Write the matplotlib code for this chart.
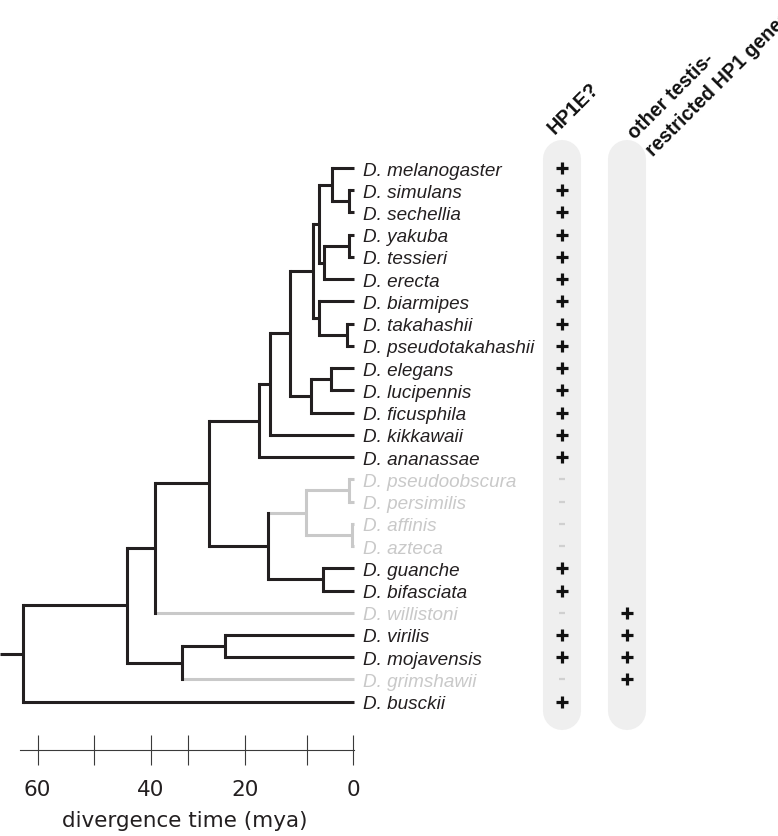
import matplotlib.pyplot as plt
import numpy as np

# tips, top to bottom
species = ['D. melanogaster', 'D. simulans', 'D. sechellia', 'D. yakuba',
           'D. tessieri', 'D. erecta', 'D. biarmipes', 'D. takahashii',
           'D. pseudotakahashii', 'D. elegans', 'D. lucipennis',
           'D. ficusphila', 'D. kikkawaii', 'D. ananassae',
           'D. pseudoobscura', 'D. persimilis', 'D. affinis', 'D. azteca',
           'D. guanche', 'D. bifasciata', 'D. willistoni', 'D. virilis',
           'D. mojavensis', 'D. grimshawii', 'D. busckii']
hp1e = ['+', '+', '+', '+', '+', '+', '+', '+', '+', '+', '+', '+', '+', '+',
        '-', '-', '-', '-', '+', '+', '-', '+', '+', '-', '+']
other_hp1 = ['', '', '', '', '', '', '', '', '', '', '', '', '', '',
             '', '', '', '', '', '', '+', '+', '+', '+', '']

# internal nodes: name -> (age in mya, children)
nodes = {
    'root': (62.7, ['A', 'D. busckii']),
    'A': (43.0, ['B', 'V']),
    'B': (37.7, ['C', 'D. willistoni']),
    'C': (27.4, ['D', 'Q']),
    'D': (17.9, ['E', 'D. ananassae']),
    'E': (15.8, ['F', 'D. kikkawaii']),
    'F': (12.1, ['G', 'O']),
    'G': (7.7, ['H', 'M']),
    'H': (6.6, ['I', 'K']),
    'I': (4.2, ['D. melanogaster', 'J']),
    'J': (0.9, ['D. simulans', 'D. sechellia']),
    'K': (5.6, ['L', 'D. erecta']),
    'L': (0.9, ['D. yakuba', 'D. tessieri']),
    'M': (6.6, ['D. biarmipes', 'N']),
    'N': (1.4, ['D. takahashii', 'D. pseudotakahashii']),
    'O': (8.2, ['P', 'D. ficusphila']),
    'P': (4.4, ['D. elegans', 'D. lucipennis']),
    'Q': (16.2, ['R', 'U']),
    'R': (9.0, ['S', 'T']),
    'S': (0.9, ['D. pseudoobscura', 'D. persimilis']),
    'T': (0.4, ['D. affinis', 'D. azteca']),
    'U': (5.8, ['D. guanche', 'D. bifasciata']),
    'V': (32.6, ['W', 'D. grimshawii']),
    'W': (24.5, ['D. virilis', 'D. mojavensis']),
}

# scale bar ticks (hand drawn in the original)
tick_mya = [59.9, 49.3, 38.5, 31.4, 20.6, 8.8, 0.1]
tick_labels = ['60', '', '40', '', '20', '', '0']

DARK = '#231f20'
GREY = '#c9c9c9'
LW = 2.2

fig = plt.figure(figsize=(7.78, 8.37), dpi=100)
ax = fig.add_axes([0, 0, 1, 1])
ax.axis('off')
ax.set_xlim(67.0, -80.26)
ax.set_ylim(30.04, -7.6)

age = {s: 0.0 for s in species}
age.update({k: v[0] for k, v in nodes.items()})
ypos = {s: i for i, s in enumerate(species)}
absent = {s for s, h in zip(species, hp1e) if h == '-'}


def place(n):
    if n not in ypos:
        ypos[n] = np.mean([place(k) for k in nodes[n][1]])
    return ypos[n]


def is_grey(n):
    if n in nodes:
        return all(is_grey(k) for k in nodes[n][1])
    return n in absent


place('root')

# grey branches first, dark on top
for n, (a, kids) in nodes.items():
    for k in kids:
        g = is_grey(k)
        ax.hlines(ypos[k], a, age[k], color=GREY if g else DARK, lw=LW,
                  capstyle='butt', zorder=2 if g else 3)
    ys = [ypos[k] for k in kids]
    g = is_grey(n)
    ax.vlines(a, min(ys), max(ys), color=GREY if g else DARK, lw=LW,
              capstyle='projecting', zorder=2 if g else 3)
ax.hlines(ypos['root'], age['root'], ax.get_xlim()[0], color=DARK, lw=LW)

for i, s in enumerate(species):
    ax.text(-1.7, i, s, style='italic', size=13.6, family='Liberation Sans',
            va='center_baseline', ha='left',
            color=GREY if s in absent else DARK)

# columns
col_x = [-39.4, -51.6]
n = len(species)
for cx in col_x:
    ax.plot([cx, cx], [-0.4, n - 1 + 0.4], color='#efefef', lw=27.4,
            solid_capstyle='round', zorder=0)

rows = np.arange(n)
hp = np.array(hp1e)
ot = np.array(other_hp1)
ax.plot(np.full((hp == '+').sum(), col_x[0]), rows[hp == '+'], ls='',
        marker='+', ms=8.3, mew=2.3, color='#111111')
ax.plot(np.full((hp == '-').sum(), col_x[0]), rows[hp == '-'], ls='',
        marker='_', ms=4.8, mew=1.6, color='#d0d0d0')
ax.plot(np.full((ot == '+').sum(), col_x[1]), rows[ot == '+'], ls='',
        marker='+', ms=8.3, mew=2.3, color='#111111')

hdr = dict(rotation=45, rotation_mode='anchor', ha='left', va='baseline',
           size=14.2, weight='bold', family='Liberation Sans', color='#111111')
ax.text(-38.05, -1.55, 'HP1E?', **hdr)
ax.text(-53.2, -1.3, 'other testis-', **hdr)
ax.text(-56.7, -0.55, 'restricted HP1 genes', **hdr)

# time scale
axs = fig.add_axes([0, 1 - 750.7 / 837, 1, 0.0001])
axs.set_xlim(ax.get_xlim())
axs.patch.set_visible(False)
for sp in ['top', 'left', 'right']:
    axs.spines[sp].set_visible(False)
axs.spines['bottom'].set_bounds(63.2, 0.0)
axs.spines['bottom'].set_linewidth(0.8)
axs.spines['bottom'].set_color('#3a3a3a')
axs.set_yticks([])
axs.set_xticks(tick_mya, tick_labels)
axs.tick_params(axis='x', direction='inout', length=20.9, width=0.8,
                color='#3a3a3a', pad=10.5, labelsize=15.5, labelcolor=DARK)
for t in axs.get_xticklabels():
    t.set_family('DejaVu Sans')
ax.text(32.1, 29.6, 'divergence time (mya)', ha='center', va='baseline',
        size=15.5, family='DejaVu Sans', color=DARK)

fig.savefig('out.png', dpi=100)
